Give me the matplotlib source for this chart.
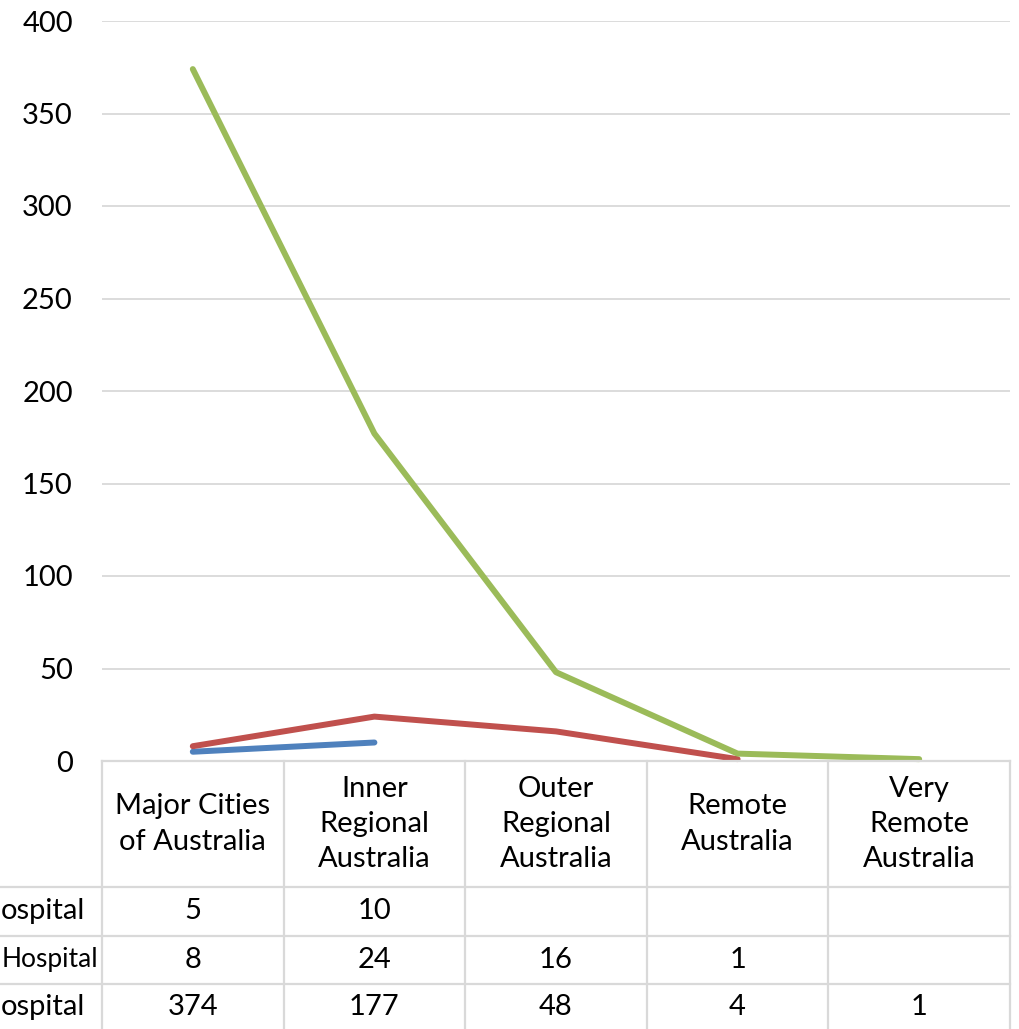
import numpy as np
import matplotlib
matplotlib.use("Agg")
import matplotlib.pyplot as plt
from matplotlib.transforms import blended_transform_factory

categories = ["Major Cities\nof Australia", "Inner\nRegional\nAustralia",
              "Outer\nRegional\nAustralia", "Remote\nAustralia",
              "Very\nRemote\nAustralia"]
series_names = ["ospital", "Hospital", "ospital"]
series1 = [5, 10, None, None, None]
series2 = [8, 24, 16, 1, None]
series3 = [374, 177, 48, 4, 1]
yticks = [0, 50, 100, 150, 200, 250, 300, 350, 400]

colors = ["#4F81BD", "#C0504D", "#9BBB59"]
W, H = 1020, 1029
plt.rcParams['font.family'] = ['Lato', 'DejaVu Sans']
FS = 21

fig = plt.figure(figsize=(W / 100, H / 100), dpi=100)
left, right, top, bottom = 102, 1010, 21, 761
ax = fig.add_axes([left / W, 1 - bottom / H, (right - left) / W, (bottom - top) / H])
ax.set_xlim(-0.5, 4.5)
ax.set_ylim(0, 400)
ax.set_yticks(yticks)
ax.set_xticks([])
ax.grid(axis='y', color='#D9D9D9', linewidth=1.3)
ax.set_axisbelow(True)
for s in ax.spines.values():
    s.set_visible(False)
ax.tick_params(axis='y', length=0, pad=21, labelsize=FS)

x = np.arange(len(categories))
for vals, c in zip([series1, series2, series3], colors):
    y = np.array([np.nan if v is None else v for v in vals], dtype=float)
    ax.plot(x, y, color=c, linewidth=4.3, solid_capstyle='round', clip_on=False)

# data table
def fy(py):
    return 1 - py / H

tr = blended_transform_factory(ax.transData, fig.transFigure)
grid_c = '#D9D9D9'
lw = 1.6
fig.add_artist(plt.Line2D([left / W, right / W], [fy(761), fy(761)], transform=fig.transFigure, color=grid_c, lw=lw))
for py in [887, 936, 984]:
    fig.add_artist(plt.Line2D([0, right / W], [fy(py), fy(py)], transform=fig.transFigure, color=grid_c, lw=lw))
for k in range(len(categories) + 1):
    xb = k - 0.5
    fig.add_artist(plt.Line2D([xb, xb], [fy(761), fy(1029)], transform=tr, color=grid_c, lw=lw))

for i, cat in enumerate(categories):
    fig.text(i, fy(824), cat, transform=tr, ha='center', va='center',
             fontsize=FS, linespacing=1.45)

row_y = [911, 960, 1007]
label_x = [85, 2, 85]
label_ha = ['right', 'left', 'right']
label_fs = [FS, 19, FS]
for r, (vals, name) in enumerate(zip([series1, series2, series3], series_names)):
    fig.text(label_x[r] / W, fy(row_y[r]), name, ha=label_ha[r], va='center', fontsize=label_fs[r])
    for i, v in enumerate(vals):
        if v is not None:
            fig.text(i, fy(row_y[r]), str(v), transform=tr, ha='center', va='center', fontsize=FS)

fig.savefig("out.png", dpi=100)
